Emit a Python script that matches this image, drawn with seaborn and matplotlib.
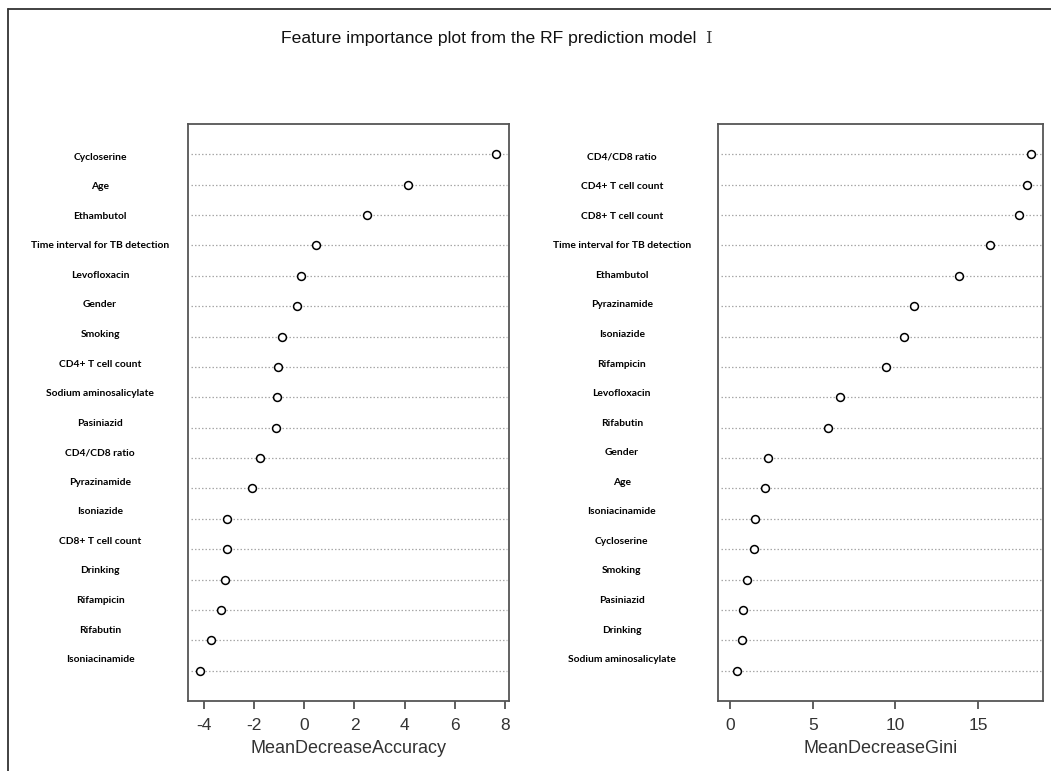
import numpy as np
import pandas as pd
import matplotlib
matplotlib.use("Agg")
import matplotlib.pyplot as plt
import matplotlib.transforms as mtransforms
from matplotlib.lines import Line2D
import seaborn as sns

# values (already sorted, top row first)
acc_features = [
    "Cycloserine", "Age", "Ethambutol", "Time interval for TB detection",
    "Levofloxacin", "Gender", "Smoking", "CD4+ T cell count",
    "Sodium aminosalicylate", "Pasiniazid", "CD4/CD8 ratio", "Pyrazinamide",
    "Isoniazide", "CD8+ T cell count", "Drinking", "Rifampicin",
    "Rifabutin", "Isoniacinamide",
]
acc_values = [
    7.67, 4.15, 2.49, 0.45, -0.13, -0.31, -0.88, -1.05, -1.09,
    -1.13, -1.79, -2.09, -3.08, -3.07, -3.16, -3.34, -3.71, -4.16,
]

gini_features = [
    "CD4/CD8 ratio", "CD4+ T cell count", "CD8+ T cell count",
    "Time interval for TB detection", "Ethambutol", "Pyrazinamide",
    "Isoniazide", "Rifampicin", "Levofloxacin", "Rifabutin", "Gender",
    "Age", "Isoniacinamide", "Cycloserine", "Smoking", "Pasiniazid",
    "Drinking", "Sodium aminosalicylate",
]
gini_values = [
    18.2, 17.95, 17.48, 15.71, 13.86, 11.12, 10.49, 9.45, 6.65,
    5.94, 2.32, 2.12, 1.49, 1.43, 1.03, 0.79, 0.71, 0.40,
]

acc_ticks = [-4, -2, 0, 2, 4, 6, 8]
gini_ticks = [0, 5, 10, 15]

sns.set_theme(style="white")
plt.rcParams["font.family"] = ["Liberation Sans", "DejaVu Sans"]
plt.rcParams["axes.unicode_minus"] = False

fig = plt.figure(figsize=(10.51, 7.71), dpi=100)
ax1 = fig.add_axes([0.1789, 0.0908, 0.3054, 0.7484])
ax2 = fig.add_axes([0.6832, 0.0908, 0.3092, 0.7484])


def dot_panel(ax, features, values, ticks, xlabel, xlim, label_x):
    n = len(features)
    df = pd.DataFrame({"feature": features, "value": values})
    df["pos"] = np.arange(n, 0, -1)
    for p in df["pos"]:
        ax.axhline(p, xmin=0.01, xmax=0.995, color="#a8a8a8", lw=0.9,
                   ls=(0, (1.2, 1.6)), zorder=1)
    sns.scatterplot(data=df, x="value", y="pos", ax=ax, s=32,
                    facecolor="white", edgecolor="black", linewidth=1.1,
                    zorder=3, legend=False)
    ax.set_xlim(*xlim)
    ax.set_ylim(0, n + 1)
    ax.set_yticks([])
    ax.set_ylabel("")
    ax.set_xticks(ticks)
    ax.tick_params(axis="x", direction="out", length=6, width=1.2,
                   color="#444444", bottom=True, labelsize=12.5,
                   labelcolor="#333333", pad=6)
    ax.set_xlabel(xlabel, fontsize=13, color="#333333", labelpad=5)
    for sp in ax.spines.values():
        sp.set_color("#555555")
        sp.set_linewidth(1.3)
    # labels sit a little off the dotted lines, as in the reference
    trans = mtransforms.blended_transform_factory(ax.transAxes, ax.transData)
    label_y = np.linspace(n - 0.09, 1.36, n)
    for name, yy in zip(features, label_y):
        ax.text(label_x, yy, name, transform=trans, ha="center", va="center",
                fontsize=7.4, fontweight="bold", family="Lato", color="black")


dot_panel(ax1, acc_features, acc_values, acc_ticks, "MeanDecreaseAccuracy",
          (-4.645, 8.17), -0.274)
dot_panel(ax2, gini_features, gini_values, gini_ticks, "MeanDecreaseGini",
          (-0.73, 18.93), -0.296)

fig.text(0.465, 0.950, "Feature importance plot from the RF prediction model",
         ha="center", va="center", fontsize=12.6, color="#111111")
fig.text(0.674, 0.950, "Ⅰ", ha="center", va="center", fontsize=12,
         color="#333333", family=["DejaVu Serif", "Noto Sans CJK SC"])

# outer frame (top and left edges)
fig.add_artist(Line2D([8 / 1051, 1.0], [1 - 9 / 771, 1 - 9 / 771],
                      transform=fig.transFigure, color="#333333", lw=1.3))
fig.add_artist(Line2D([8 / 1051, 8 / 1051], [0.0, 1 - 9 / 771],
                      transform=fig.transFigure, color="#333333", lw=1.3))

fig.savefig("out.png", dpi=100)
